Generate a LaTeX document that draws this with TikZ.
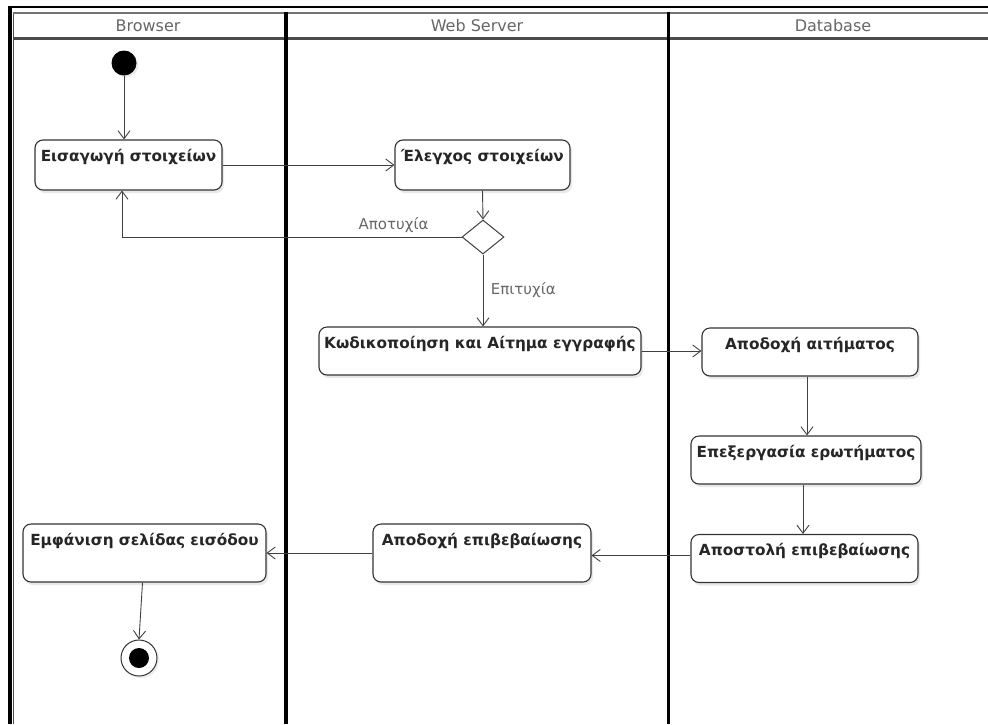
\documentclass[tikz,border=0pt]{standalone}
\usepackage{fontspec}
\setmainfont{DejaVu Sans}
\usetikzlibrary{arrows.meta,shapes.geometric,shadows}

\begin{document}
\begin{tikzpicture}[x=1pt,y=-1pt,
  lane/.style={line width=3.2pt, black},
  action/.style={draw=black!80, line width=1.1pt, rounded corners=8pt, fill=white,
    inner xsep=3pt, inner ysep=5pt, text height=16pt, text depth=22pt,
    font=\bfseries\fontsize{15.3}{17}\selectfont, text=black!85,
    drop shadow={opacity=0.18, shadow xshift=2pt, shadow yshift=-3pt}},
  tall/.style={text depth=32pt},
  flow/.style={draw=black!75, line width=0.9pt, -{Straight Barb[length=8pt,width=12pt]}},
  guard/.style={text=black!60, font=\fontsize{15}{17}\selectfont},
  head/.style={text=black!60, font=\fontsize{16}{18}\selectfont},
]
\path[use as bounding box] (0,0) rectangle (988,724);

% outer frame and swimlane header
\draw[black, line width=2pt] (8,7) -- (988,7);
\draw[black, line width=3.5pt] (10,6) -- (10,724);
\draw[black!70, line width=1.2pt] (13.5,12) -- (13.5,724);
\draw[black!55, line width=2pt] (13,12.5) -- (988,12.5);
\draw[black!70, line width=2.5pt] (13,38.5) -- (988,38.5);
\draw[lane] (286,11.5) -- (286,724);
\draw[lane] (668.5,11.5) -- (668.5,724);

\node[head] (hb) at (148,26) {Browser};
\node[head] (hw) at (477,26) {Web Server};
\node[head] (hd) at (833,26) {Database};

% start and end
\node[circle, fill=black, minimum size=25pt, inner sep=0pt,
  drop shadow={opacity=0.15, shadow xshift=2pt, shadow yshift=-2pt}] (init) at (124,63) {};
\node[circle, draw=black!80, line width=1pt, fill=white, minimum size=36pt, inner sep=0pt,
  drop shadow={opacity=0.15, shadow xshift=2pt, shadow yshift=-2pt}] (fin) at (139,658) {};
\node[circle, fill=black, minimum size=20pt, inner sep=0pt] (finc) at (fin) {};

% actions
\node[action, minimum width=187pt, text depth=24pt] (a1) at (128.5,165) {Εισαγωγή στοιχείων};
\node[action, minimum width=175pt, text depth=24pt] (a2) at (482.5,165) {Έλεγχος στοιχείων};
\node[diamond, draw=black!75, line width=1pt, fill=white, minimum width=42pt,
  minimum height=34pt, inner sep=0pt] (dec) at (483,237) {};
\node[action, minimum width=322pt] (a3) at (480,351) {Κωδικοποίηση και Αίτημα εγγραφής};
\node[action, minimum width=216pt] (b1) at (810,352) {Αποδοχή αιτήματος};
\node[action, minimum width=230pt] (b2) at (806,460) {Επεξεργασία ερωτήματος};
\node[action, minimum width=227pt] (b3) at (804.5,558.5) {Αποστολή επιβεβαίωσης};
\node[action, tall, minimum width=218pt] (a4) at (482,553) {Αποδοχή επιβεβαίωσης};
\node[action, tall, minimum width=243pt] (c2) at (144.5,553) {Εμφάνιση σελίδας εισόδου};

% control flow
\draw[flow] (init) -- (init |- a1.north);
\draw[flow] (a1.east) -- (a2.west);
\draw[flow] (a2.south) -- (dec.north);
\draw[flow] (dec.west) -| ([xshift=-6.5pt]a1.south)
  node[guard, pos=0.1, above=1pt] {Αποτυχία};
\draw[flow] (dec.south) -- (dec.south |- a3.north)
  node[guard, pos=0.5, right=4pt] {Επιτυχία};
\draw[flow] (a3.east) -- (a3.east -| b1.west);
\draw[flow] ([xshift=-3pt]b1.south) -- ([xshift=-3pt]b1.south |- b2.north);
\draw[flow] ([xshift=-3pt]b2.south) -- ([xshift=-3pt]b2.south |- b3.north);
\draw[flow] ([yshift=3pt]b3.west) -- ([yshift=3pt]b3.west -| a4.east);
\draw[flow] (a4.west) -- (a4.west -| c2.east);
\draw[flow] ([xshift=-2pt]c2.south) -- (fin.north);
\end{tikzpicture}
\end{document}
